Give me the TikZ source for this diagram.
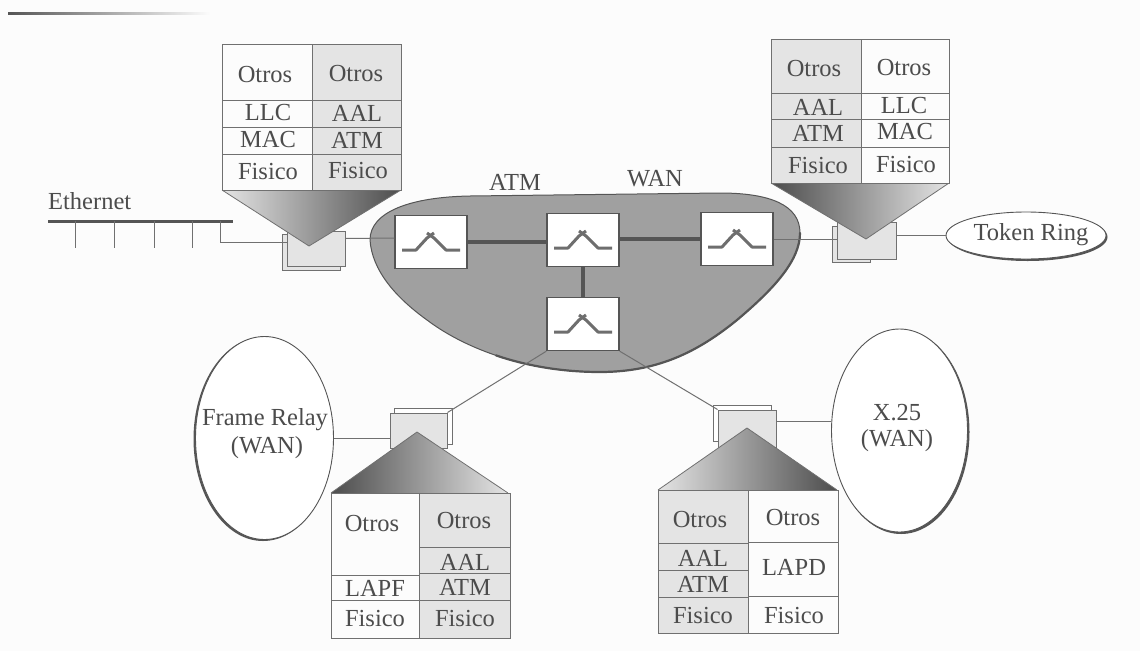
\documentclass[tikz,border=0pt]{standalone}
\usepackage{fontspec}
\setmainfont{Liberation Serif}
\usetikzlibrary{shapes.geometric}
\definecolor{paper}{HTML}{FCFCFC}
\definecolor{ink}{HTML}{4C4C4C}
\definecolor{rule}{HTML}{707070}
\definecolor{shaded}{HTML}{E4E4E4}
\definecolor{plain}{HTML}{FCFCFC}
\definecolor{cloudgrey}{HTML}{A0A0A0}
\definecolor{edgegrey}{HTML}{555555}
\tikzset{
  lbl/.style={text=ink,inner sep=0pt,font=\fontsize{24.5}{26}\selectfont},
  cellline/.style={draw=rule,line width=1pt},
  switchbox/.style={draw=edgegrey,fill=white,line width=1.4pt,minimum width=72pt,minimum height=53pt,inner sep=0pt},
  device/.style={draw=rule,fill=shaded,line width=1pt,inner sep=0pt},
  wire/.style={draw=rule,line width=1pt},
  trunk/.style={draw=edgegrey,line width=3.6pt},
  cloudshape/.style={ellipse,draw=edgegrey,fill=white,line width=.9pt,inner sep=0pt},
  icon/.style={draw=edgegrey!85,line width=3pt,line join=round},
  funnel/.style={draw=rule,line width=.8pt}
}
\newcommand{\cellrect}[5]{\draw[cellline,fill=#5] (#1,#2) rectangle (#3,#4);}
\newcommand{\swicon}[1]{%
  \draw[icon] ([shift={(-29pt,-8pt)}]#1.center) -- ([shift={(-15pt,-8pt)}]#1.center) -- ([shift={(-4pt,4pt)}]#1.center) -- ([shift={(3pt,9pt)}]#1.center);
  \draw[icon] ([shift={(-4pt,9pt)}]#1.center) -- ([shift={(3pt,4pt)}]#1.center) -- ([shift={(15pt,-8pt)}]#1.center) -- ([shift={(29pt,-8pt)}]#1.center);}
\begin{document}
\begin{tikzpicture}[x=1pt,y=-1pt]
\fill[paper] (0,0) rectangle (1140,651);
\useasboundingbox (0,0) rectangle (1140,651);
% page rule at the top
\shade[left color=edgegrey,right color=paper] (8,12) rectangle (210,14);

% cloud
\path[fill=cloudgrey,draw=edgegrey,line width=1pt] (800,233) .. controls (800,205) and (770,193) .. (720,193) -- (470,196) .. controls (410,197) and (370,212) .. (370,240) .. controls (372,270) and (395,297) .. (427,320) .. controls (460,345) and (520,372) .. (600,372) .. controls (660,372) and (700,350) .. (737,320) .. controls (775,288) and (800,260) .. (800,233) -- cycle;
\draw[edgegrey,line width=2.2pt,line cap=round] (496,355.4) .. controls (525,365.25) and (560,372) .. (600,372) .. controls (660,372) and (700,350) .. (737,320) .. controls (775,288) and (800,260) .. (800,233);

% switches
\node[switchbox] (sw1) at (431,242) {};
\node[switchbox] (sw2) at (583,240) {};
\node[switchbox] (sw3) at (737,239) {};
\node[switchbox] (sw4) at (583,324) {};
\swicon{sw1}\swicon{sw2}\swicon{sw3}\swicon{sw4}
\draw[trunk] (sw1.east) -- (sw1.east -| sw2.west);
\draw[trunk] (sw3.west) -- (sw3.west -| sw2.east);
\draw[trunk] (sw2.south) -- (sw4.north);

% ellipses with their shadow edge
\fill[edgegrey] (263,439) ellipse [x radius=69.5pt,y radius=102pt];
\node[cloudshape,minimum width=138pt,minimum height=203pt] (frame) at (264.5,438) {};
\fill[edgegrey] (901,432) ellipse [x radius=68.5pt,y radius=102pt];
\node[cloudshape,minimum width=136pt,minimum height=203pt] (x25) at (899.5,430.5) {};
\fill[edgegrey] (1027.5,237) ellipse [x radius=80pt,y radius=24pt];
\node[cloudshape,minimum width=160pt,minimum height=47pt] (token) at (1026,235.5) {};
\node[lbl] (tokent) at (1031,235) {Token Ring};

% devices (back face, then front face)
\draw[device,fill=shaded] (282,234) rectangle (340,270);
\node[device,minimum width=58pt,minimum height=35pt] (devUL) at (316,248.5) {};
\draw[device,fill=shaded] (832,226) rectangle (870,262);
\node[device,minimum width=59pt,minimum height=37pt] (devUR) at (866.5,240.5) {};
\draw[device,fill=white] (394,408) rectangle (452,444);
\node[device,minimum width=57pt,minimum height=35pt] (devLL) at (418.5,430.5) {};
\draw[device,fill=white] (713,405) rectangle (771,441);
\node[device,minimum width=58pt,minimum height=37pt] (devLR) at (747,428.5) {};

% Ethernet
\node[lbl,anchor=west] (eth) at (48,201) {Ethernet};
\coordinate (busL) at (48,221);
\coordinate (busR) at (233,221);
\draw[edgegrey,line width=3pt] (busL) -- (busR);
\coordinate (t1) at (75,221); \coordinate (t2) at (114,221);
\coordinate (t3) at (154,221); \coordinate (t4) at (192,221);
\coordinate (t5) at (220,221);
\foreach \t in {t1,t2,t3,t4} \draw[wire] (\t) -- ++(0,27);
\draw[wire] (t5) |- ([yshift=6.5pt]devUL.west);

% connectors
\draw[wire] ([yshift=10pt]devUL.east) -- ([yshift=4pt]sw1.west);
\draw[wire] (sw3.east) -- (sw3.east -| devUR.west);
\draw[wire] ([yshift=5pt]devUR.east) -- (token.west);
\draw[wire] (sw4.south west) -- (devLL.north east);
\draw[wire] (sw4.south east) -- (devLR.north west);
\draw[wire] (frame.east) -- (frame.east -| devLL.west);
\draw[wire] ([yshift=9.5pt]x25.west) -- ([yshift=7.5pt]devLR.east);

% funnels
\shade[left color=shaded,middle color=gray!85,right color=edgegrey!90!black] (222,190) -- (401,190) -- (309,246) -- cycle;
\draw[funnel] (222,190) -- (309,246) -- (401,190);
\shade[left color=edgegrey!90!black,middle color=gray!85,right color=shaded] (771,183) -- (949,183) -- (866,239) -- cycle;
\draw[funnel] (771,183) -- (866,239) -- (949,183);
\shade[left color=edgegrey!90!black,middle color=gray!85,right color=shaded] (331,493) -- (508,493) -- (417,432) -- cycle;
\draw[funnel] (331,493) -- (417,432) -- (508,493);
\shade[left color=shaded,middle color=gray!85,right color=edgegrey!90!black] (658,490) -- (837,490) -- (747,428) -- cycle;
\draw[funnel] (658,490) -- (747,428) -- (837,490);

% stack upper left
\cellrect{222}{44}{312}{100}{plain}\cellrect{222}{100}{312}{127}{plain}\cellrect{222}{127}{312}{154}{plain}\cellrect{222}{154}{312}{190}{plain}
\cellrect{312}{44}{401}{100}{shaded}\cellrect{312}{100}{401}{127}{shaded}\cellrect{312}{127}{401}{154}{shaded}\cellrect{312}{154}{401}{190}{shaded}
\node[lbl] (a1) at (265,75) {Otros};
\node[lbl] (a2) at (356,74) {Otros};
\node[lbl] (a3) at (268,113) {LLC};
\node[lbl] (a4) at (357,113) {AAL};
\node[lbl] (a5) at (268,140) {MAC};
\node[lbl] (a6) at (357,140) {ATM};
\node[lbl] (a7) at (268,172) {Fisico};
\node[lbl] (a8) at (358,171) {Fisico};

% stack upper right
\cellrect{771}{39}{861}{93}{shaded}\cellrect{771}{93}{861}{119}{shaded}\cellrect{771}{119}{861}{147}{shaded}\cellrect{771}{147}{861}{183}{shaded}
\cellrect{861}{39}{949}{93}{plain}\cellrect{861}{93}{949}{119}{plain}\cellrect{861}{119}{949}{147}{plain}\cellrect{861}{147}{949}{183}{plain}
\node[lbl] (b1) at (814,69) {Otros};
\node[lbl] (b2) at (904,68) {Otros};
\node[lbl] (b3) at (818,107) {AAL};
\node[lbl] (b4) at (904,106) {LLC};
\node[lbl] (b5) at (818,133) {ATM};
\node[lbl] (b6) at (905,132) {MAC};
\node[lbl] (b7) at (818,166) {Fisico};
\node[lbl] (b8) at (906,165) {Fisico};

% stack lower left
\cellrect{331}{493}{419}{575}{plain}\cellrect{331}{575}{419}{600}{plain}\cellrect{331}{600}{419}{638}{plain}
\cellrect{419}{493}{510}{547}{shaded}\cellrect{419}{547}{510}{573}{shaded}\cellrect{419}{573}{510}{600}{shaded}\cellrect{419}{600}{510}{638}{shaded}
\node[lbl] (c1) at (372,523) {Otros};
\node[lbl] (c2) at (464,520) {Otros};
\node[lbl] (c3) at (465,562) {AAL};
\node[lbl] (c4) at (375,588) {LAPF};
\node[lbl] (c5) at (465,587) {ATM};
\node[lbl] (c6) at (375,618) {Fisico};
\node[lbl] (c7) at (465,618) {Fisico};

% stack lower right
\cellrect{658}{490}{748}{543}{shaded}\cellrect{658}{543}{748}{570}{shaded}\cellrect{658}{570}{748}{597}{shaded}\cellrect{658}{597}{748}{633}{shaded}
\cellrect{748}{490}{838}{542}{plain}\cellrect{748}{542}{838}{596}{plain}\cellrect{748}{596}{838}{633}{plain}
\node[lbl] (d1) at (700,519) {Otros};
\node[lbl] (d2) at (793,517) {Otros};
\node[lbl] (d3) at (703,558) {AAL};
\node[lbl] (d4) at (703,584) {ATM};
\node[lbl] (d5) at (794,567) {LAPD};
\node[lbl] (d6) at (703,615) {Fisico};
\node[lbl] (d7) at (794,615) {Fisico};

% other labels
\node[lbl] (atm) at (515,182) {ATM};
\node[lbl] (wan) at (655,179) {WAN};
\node[lbl] (fr1) at (265,420) {Frame Relay};
\node[lbl] (fr2) at (267,448) {(WAN)};
\node[lbl] (xa) at (897,413) {X.25};
\node[lbl] (xb) at (897,441) {(WAN)};
\end{tikzpicture}
\end{document}
